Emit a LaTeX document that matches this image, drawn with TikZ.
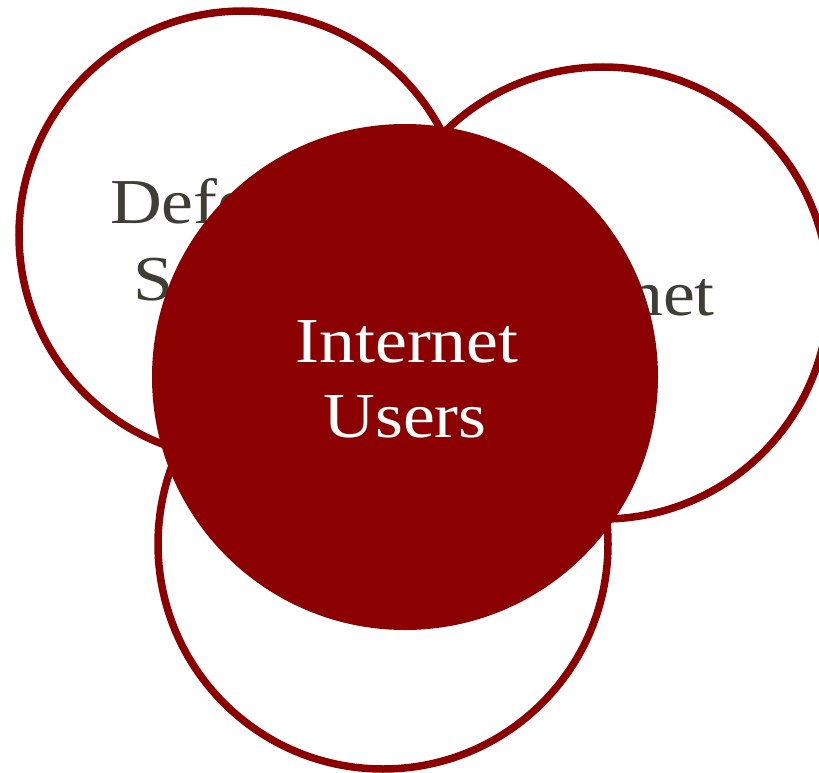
\documentclass[tikz,border=0pt]{standalone}
\usepackage{fontspec}
\setmainfont{Liberation Serif}[FakeStretch=1.12]
\definecolor{ringred}{RGB}{139,0,0}
\definecolor{labelgrey}{RGB}{62,62,54}
\tikzset{
  ring/.style={draw=ringred, line width=7.5pt},
  core/.style={fill=ringred},
  sidelabel/.style={text=labelgrey, inner sep=0pt, font=\fontsize{64}{77}\selectfont},
  corelabel/.style={text=white, inner sep=0pt, font=\fontsize{64}{77}\selectfont}
}
\begin{document}
\begin{tikzpicture}[x=1pt,y=-1pt]
\useasboundingbox (0,0) rectangle (819,773);
% outer rings
\draw[ring] (243,235) circle[radius=224];
\draw[ring] (603,293) circle[radius=226];
\draw[ring] (383,544) circle[radius=225];
% labels of outer rings
\node[sidelabel, anchor=base west] (defA) at (110,223) {Defense};
\node[sidelabel, anchor=base west] (defB) at (133,300) {Sector};
\node[sidelabel, anchor=base east] (net) at (715,315) {Internet};
% central disc
\fill[core] (405,377) circle[radius=253];
\node[corelabel, anchor=base] (usersA) at (407,362) {Internet};
\node[corelabel, anchor=base] (usersB) at (405,437) {Users};
\end{tikzpicture}
\end{document}
